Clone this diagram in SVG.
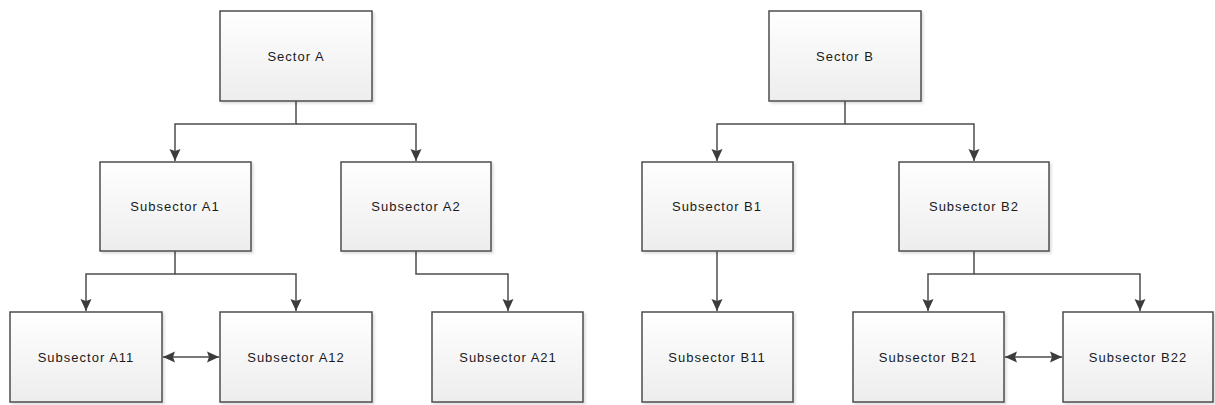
<svg xmlns="http://www.w3.org/2000/svg" width="1215" height="405" viewBox="0 0 1215 405">
<style>
.box{fill:url(#g);stroke:#4d4d4d;stroke-width:1.5;filter:url(#sh)}
.lbl{font-family:"Liberation Sans",Arial,sans-serif;font-size:13px;fill:#1a1a1a;text-anchor:middle;dominant-baseline:central;letter-spacing:1px}
.c{fill:none;stroke:#4d4d4d;stroke-width:1.5}
</style>
<defs>
<linearGradient id="g" x1="0" y1="0" x2="0" y2="1"><stop offset="0" stop-color="#ffffff"/><stop offset="1" stop-color="#ededed"/></linearGradient>
<filter id="sh" x="-10%" y="-10%" width="125%" height="125%"><feDropShadow dx="2" dy="2" stdDeviation="1" flood-color="#000" flood-opacity="0.12"/></filter>
<marker id="a" viewBox="0 0 12 12" refX="12" refY="6" markerWidth="12" markerHeight="12" markerUnits="userSpaceOnUse" orient="auto-start-reverse"><path d="M0,0.5 L12,6 L0,11.5 L2,6 Z" fill="#3c3c3c"/></marker>
</defs>
<rect width="1215" height="405" fill="#fff"/>
<g id="connectors">
<path class="c" d="M296,101 V124 H175 V161" marker-end="url(#a)"/>
<path class="c" d="M296,124 H416 V161" marker-end="url(#a)"/>
<path class="c" d="M175,251 V274 H86 V311" marker-end="url(#a)"/>
<path class="c" d="M175,274 H296 V311" marker-end="url(#a)"/>
<path class="c" d="M416,251 V274 H508 V311" marker-end="url(#a)"/>
<path class="c" d="M163,357 H219" marker-start="url(#a)" marker-end="url(#a)"/>
<path class="c" d="M845,101 V124 H717 V161" marker-end="url(#a)"/>
<path class="c" d="M845,124 H974 V161" marker-end="url(#a)"/>
<path class="c" d="M717,251 V311" marker-end="url(#a)"/>
<path class="c" d="M974,251 V274 H928 V311" marker-end="url(#a)"/>
<path class="c" d="M974,274 H1140 V311" marker-end="url(#a)"/>
<path class="c" d="M1005,357 H1062" marker-start="url(#a)" marker-end="url(#a)"/>
</g>
<g id="sectorA"><rect class="box" x="220" y="11" width="152" height="90"/><text class="lbl" x="296" y="56">Sector A</text></g>
<g id="subA1"><rect class="box" x="100" y="162" width="151" height="89"/><text class="lbl" x="175" y="206">Subsector A1</text></g>
<g id="subA2"><rect class="box" x="341" y="162" width="150" height="89"/><text class="lbl" x="416" y="206">Subsector A2</text></g>
<g id="subA11"><rect class="box" x="10" y="312" width="152" height="90"/><text class="lbl" x="86" y="357">Subsector A11</text></g>
<g id="subA12"><rect class="box" x="220" y="312" width="152" height="90"/><text class="lbl" x="296" y="357">Subsector A12</text></g>
<g id="subA21"><rect class="box" x="432" y="312" width="151" height="90"/><text class="lbl" x="508" y="357">Subsector A21</text></g>
<g id="sectorB"><rect class="box" x="769" y="11" width="152" height="90"/><text class="lbl" x="845" y="56">Sector B</text></g>
<g id="subB1"><rect class="box" x="642" y="162" width="151" height="89"/><text class="lbl" x="717" y="206">Subsector B1</text></g>
<g id="subB2"><rect class="box" x="899" y="162" width="150" height="89"/><text class="lbl" x="974" y="206">Subsector B2</text></g>
<g id="subB11"><rect class="box" x="642" y="312" width="151" height="90"/><text class="lbl" x="717" y="357">Subsector B11</text></g>
<g id="subB21"><rect class="box" x="853" y="312" width="151" height="90"/><text class="lbl" x="928" y="357">Subsector B21</text></g>
<g id="subB22"><rect class="box" x="1063" y="312" width="150" height="90"/><text class="lbl" x="1138" y="357">Subsector B22</text></g>
</svg>
